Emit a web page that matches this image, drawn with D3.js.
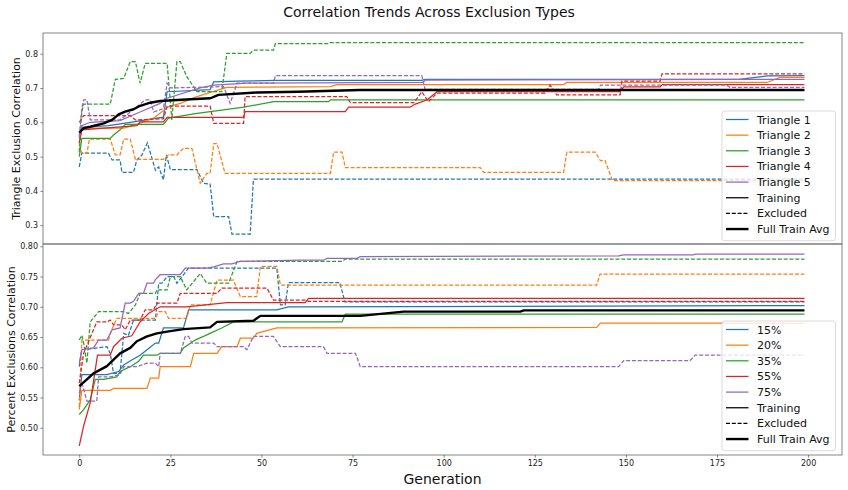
<!DOCTYPE html>
<html>
<head>
<meta charset="utf-8">
<script src="https://cdn.jsdelivr.net/npm/d3@7"></script>
<style>
  body { margin: 0; background: #fff; }
  svg { font-family: "DejaVu Sans", sans-serif; }
</style>
</head>
<body>
<div id="chart"></div>
<script>
// ---- data: [generation, correlation] vertices ----
const colors = ['#1f77b4', '#ff7f0e', '#2ca02c', '#d62728', '#9467bd'];

const triLabels = ['Triangle 1', 'Triangle 2', 'Triangle 3', 'Triangle 4', 'Triangle 5'];
const pctLabels = ['15%', '20%', '35%', '55%', '75%'];

const tri1Train = [[0,.555],[0.7,.585],[8,.59],[14,.6],[20,.61],[23.1,.615],[24.1,.689],[35.9,.695],[36.9,.718],[43.3,.72],[53.8,.722],[94,.722],[94.9,.725],[181,.725],[188.7,.735],[199,.736]];
const tri1Excl = [[0,.47],[0.7,.51],[8,.51],[9,.49],[11.2,.49],[11.7,.454],[14.9,.454],[15.8,.49],[17.2,.505],[18.7,.54],[20.9,.46],[21.8,.47],[23.1,.432],[23.9,.505],[25,.462],[32.3,.462],[34.1,.422],[35.9,.42],[36.9,.325],[41,.325],[41.9,.274],[46.9,.274],[47.8,.434],[199,.434]];
const tri2Train = [[0,.54],[0.7,.583],[12.2,.583],[15.8,.594],[20.4,.612],[24.5,.645],[27.7,.655],[32.3,.675],[36.9,.69],[40.5,.702],[68.9,.704],[70.7,.71],[132.9,.71],[133.8,.716],[188.7,.716],[192.3,.731],[199,.731]];
const tri2Excl = [[0,.535],[0.7,.51],[2.1,.51],[2.8,.551],[8.5,.551],[9.9,.505],[11.2,.505],[12.2,.551],[14,.551],[15.4,.492],[23.1,.492],[24.5,.505],[26.8,.505],[28.6,.524],[30.9,.524],[33.2,.422],[35,.451],[35.9,.451],[36.9,.538],[37.8,.538],[40,.451],[68.9,.451],[69.8,.513],[72.1,.513],[73,.468],[110,.468],[111,.454],[132.9,.454],[133.8,.513],[141.6,.513],[143,.488],[144.3,.488],[146.3,.43],[199,.43]];
const tri3Train = [[0,.5],[0.7,.553],[8.5,.553],[9.4,.563],[11.2,.578],[12.6,.594],[23.1,.594],[24.5,.612],[32.3,.626],[39.6,.636],[45.1,.644],[53.3,.66],[68.4,.66],[68.9,.665],[199,.665]];
const tri3Excl = [[0,.514],[0.7,.631],[1.2,.653],[8.5,.653],[9.9,.725],[12.2,.728],[14,.777],[15.4,.777],[16.7,.714],[18.1,.772],[24.1,.772],[25.4,.607],[26.8,.777],[27.7,.777],[29.5,.733],[32.3,.689],[39.1,.689],[40.5,.801],[46.9,.801],[47.8,.81],[53.3,.81],[53.8,.829],[68.4,.829],[68.9,.832],[199,.832]];
const tri4Train = [[0,.54],[0.7,.578],[15.8,.59],[16.7,.601],[23.1,.601],[24.1,.614],[45.1,.614],[45.5,.631],[73,.631],[73.9,.644],[90.8,.644],[92.2,.653],[95.4,.665],[98.2,.689],[148.4,.689],[149.4,.703],[159.4,.703],[160,.71],[199,.71]];
const tri4Excl = [[0,.6],[1.2,.619],[14,.619],[15.4,.607],[23.1,.61],[24.1,.647],[35.9,.647],[36.9,.597],[45.1,.597],[45.5,.675],[73.4,.675],[74.4,.657],[91.8,.657],[94,.689],[95.8,.66],[98.2,.685],[127.8,.685],[129.2,.708],[131,.68],[148.4,.68],[148.9,.72],[159.4,.72],[159.9,.741],[199,.741]];
const tri5Train = [[0,.555],[0.7,.59],[3,.6],[11.2,.605],[16.7,.63],[22.2,.655],[24.1,.67],[33.2,.7],[36.9,.708],[46,.714],[94.4,.716],[94.9,.723],[199,.725]];
const tri5Excl = [[0,.56],[0.7,.64],[1.2,.665],[2.1,.665],[3,.607],[11.2,.607],[14,.63],[18.1,.665],[19.5,.665],[20.4,.63],[23.1,.64],[24.1,.714],[25,.7],[39.6,.704],[41.4,.655],[43.3,.714],[53.3,.714],[53.8,.736],[94,.736],[94.9,.696],[142.5,.696],[143,.708],[177.7,.708],[178.5,.702],[199,.702]];
const triAvg = [[0,.57],[1.2,.583],[3,.587],[6.7,.597],[9,.607],[10.8,.623],[12.6,.631],[14.9,.638],[16.7,.648],[19.5,.657],[22.2,.662],[25.8,.664],[30.5,.667],[36,.67],[38.2,.68],[48.7,.687],[60,.689],[77,.694],[199,.694]];

const pct15Train = [[0,.546],[0.7,.588],[7.6,.588],[10.8,.593],[12.2,.604],[14.4,.612],[16.7,.62],[18.6,.629],[20.9,.64],[21.8,.64],[23.1,.665],[28.6,.665],[30,.695],[54.2,.695],[57.4,.7],[199,.702]];
const pct15Excl = [[0,.601],[0.7,.629],[7.6,.634],[8.5,.623],[9.4,.59],[11.2,.59],[12.2,.656],[13.5,.653],[14.9,.678],[20.9,.678],[21.8,.739],[22.7,.739],[24.1,.75],[25.9,.75],[26.8,.739],[30,.764],[54.2,.764],[55.2,.703],[56.5,.703],[57.4,.74],[71.5,.74],[72.9,.708],[199,.708]];
const pct20Train = [[0,.53],[0.7,.562],[8.5,.562],[9.4,.565],[18.6,.565],[19.5,.582],[21.8,.582],[22.2,.601],[30.5,.601],[31.4,.623],[37.8,.623],[39.1,.634],[43.3,.634],[44.2,.648],[47.8,.648],[48.7,.656],[54.2,.665],[142,.666],[143,.673],[199,.673]];
const pct20Excl = [[0,.535],[0.7,.645],[8,.645],[8.9,.662],[10.3,.681],[20.9,.681],[21.8,.692],[23.6,.692],[24.5,.681],[29.5,.681],[30.5,.703],[35.9,.703],[37.8,.744],[42.3,.744],[44.2,.717],[48.7,.717],[49.7,.767],[54.2,.767],[55.2,.736],[142,.736],[142.9,.754],[199,.754]];
const pct35Train = [[0,.522],[1.2,.53],[3,.546],[4.4,.58],[6.7,.58],[10.3,.584],[11.2,.593],[14,.601],[16.3,.61],[17.6,.62],[21.3,.62],[22.2,.623],[27.7,.623],[28.6,.632],[31.8,.645],[34.1,.651],[35.9,.656],[39.1,.665],[42.3,.675],[72.1,.675],[73,.688],[199,.688]];
const pct35Excl = [[0,.645],[0.7,.653],[1.2,.64],[2.1,.607],[3,.675],[5.3,.692],[12.2,.692],[13.5,.689],[15.4,.703],[16.7,.722],[20.9,.722],[21.3,.728],[24.1,.728],[25,.75],[27.7,.75],[29.5,.728],[33.2,.755],[35,.739],[41,.739],[43.3,.775],[72.1,.775],[73,.779],[199,.779]];
const pct55Train = [[0,.47],[1.2,.503],[3,.541],[5,.62],[8.5,.62],[9.4,.634],[11.7,.648],[14.4,.652],[15.4,.662],[16.7,.675],[19,.689],[22.2,.7],[29.5,.7],[40.5,.707],[62,.707],[62.9,.714],[199,.714]];
const pct55Excl = [[0,.574],[1.2,.623],[4.8,.675],[7.6,.675],[8.5,.678],[9.4,.67],[11.7,.67],[12.6,.662],[14,.678],[16.7,.678],[18.1,.695],[20.4,.695],[21.3,.706],[26.8,.706],[27.7,.722],[37.8,.722],[39.1,.731],[51.5,.731],[53.3,.711],[62,.711],[62.9,.709],[199,.709]];
const pct75Train = [[0,.607],[0.7,.629],[3.9,.632],[5.3,.645],[7.6,.645],[9,.662],[11.2,.665],[12.6,.706],[14,.706],[14.9,.709],[16.3,.722],[17.6,.722],[18.6,.739],[20.4,.739],[20.9,.745],[22.2,.753],[27.7,.753],[29.1,.764],[35,.764],[36.9,.766],[39.6,.771],[41.9,.771],[44.2,.775],[60.6,.777],[67,.777],[68,.78],[76.2,.78],[77.1,.783],[148,.784],[149.4,.786],[168.5,.786],[169,.787],[199,.787]];
const pct75Excl = [[0,.557],[0.7,.575],[2.1,.544],[4.8,.544],[5.3,.584],[8.5,.584],[11.2,.588],[12.2,.601],[15.8,.601],[18.6,.607],[20.9,.607],[21.8,.601],[22.2,.623],[27.7,.623],[29.1,.651],[30,.651],[30.9,.64],[36.9,.64],[37.8,.634],[45.1,.634],[46,.629],[47.8,.651],[53.3,.651],[55.2,.634],[67,.634],[68,.623],[75.8,.623],[77.1,.601],[148,.601],[149.4,.611],[167.6,.611],[169,.62],[199,.62]];
const pctAvg = [[0,.569],[2.1,.58],[3.9,.59],[7.6,.602],[9,.61],[11.2,.623],[14,.632],[15.8,.643],[18.6,.651],[21.3,.656],[24.1,.659],[28.6,.663],[35.9,.666],[37.8,.675],[47.8,.677],[49.7,.685],[77.1,.685],[89,.692],[121,.692],[122,.694],[199,.694]];

const xTicks = [0, 25, 50, 75, 100, 125, 150, 175, 200];
const triTicks = [0.3, 0.4, 0.5, 0.6, 0.7, 0.8];
const pctTicks = [0.50, 0.55, 0.60, 0.65, 0.70, 0.75, 0.80];

// ---- layout ----
const W = 848, H = 490;
const left = 43, right = 842;
const panels = [
  { top: 33, bottom: 244, domain: [0.245, 0.8603], ticks: triTicks, fmt: d3.format('.1f'),
    label: 'Triangle Exclusion Correlation', labelX: 20, labels: triLabels,
    train: [tri1Train, tri2Train, tri3Train, tri4Train, tri5Train],
    excl: [tri1Excl, tri2Excl, tri3Excl, tri4Excl, tri5Excl], avg: triAvg, legendTop: 111 },
  { top: 244, bottom: 455, domain: [0.455, 0.8038], ticks: pctTicks, fmt: d3.format('.2f'),
    label: 'Percent Exclusions Correlation', labelX: 15, labels: pctLabels,
    train: [pct15Train, pct20Train, pct35Train, pct55Train, pct75Train],
    excl: [pct15Excl, pct20Excl, pct35Excl, pct55Excl, pct75Excl], avg: pctAvg, legendTop: 321 }
];

const svg = d3.select('#chart').append('svg')
  .attr('width', W).attr('height', H);

const x = d3.scaleLinear().domain([-9.95, 209.3]).range([left, right]);

svg.append('text')
  .attr('x', 429).attr('y', 17)
  .attr('text-anchor', 'middle')
  .attr('font-size', 14)
  .attr('fill', '#111')
  .text('Correlation Trends Across Exclusion Types');

panels.forEach((p, pi) => {
  const y = d3.scaleLinear().domain(p.domain).range([p.bottom, p.top]);
  const g = svg.append('g');
  const clipId = 'clip' + pi;
  svg.append('clipPath').attr('id', clipId)
    .append('rect').attr('x', left).attr('y', p.top)
    .attr('width', right - left).attr('height', p.bottom - p.top);

  const line = d3.line().x(d => x(d[0])).y(d => y(d[1]));
  const plot = g.append('g').attr('clip-path', `url(#${clipId})`);

  p.train.forEach((s, i) => {
    plot.append('path').datum(s)
      .attr('d', line).attr('fill', 'none')
      .attr('stroke', colors[i]).attr('stroke-width', 1.25);
    plot.append('path').datum(p.excl[i])
      .attr('d', line).attr('fill', 'none')
      .attr('stroke', colors[i]).attr('stroke-width', 1.25)
      .attr('stroke-dasharray', '4,1.8');
  });
  plot.append('path').datum(p.avg)
    .attr('d', line).attr('fill', 'none')
    .attr('stroke', '#000').attr('stroke-width', 2.4)
    .attr('stroke-linejoin', 'round');

  // y axis
  const ya = g.append('g').attr('transform', `translate(${left},0)`)
    .call(d3.axisLeft(y).tickValues(p.ticks).tickFormat(p.fmt).tickSize(2.6).tickPadding(2.4));
  ya.select('.domain').remove();
  ya.selectAll('line').attr('stroke', '#333').attr('stroke-width', 0.6);
  ya.selectAll('text').attr('font-size', 8).attr('fill', '#222').attr('font-family', 'DejaVu Sans');

  g.append('text')
    .attr('transform', `translate(${p.labelX},${(p.top + p.bottom) / 2}) rotate(-90)`)
    .attr('text-anchor', 'middle')
    .attr('font-size', 11)
    .attr('fill', '#111')
    .text(p.label);

  // frame
  g.append('rect').attr('x', left).attr('y', p.top)
    .attr('width', right - left).attr('height', p.bottom - p.top)
    .attr('fill', 'none').attr('stroke', '#666').attr('stroke-width', 0.8);

  // legend
  const lg = g.append('g').attr('transform', `translate(722,${p.legendTop})`);
  lg.append('rect').attr('width', 113.5).attr('height', 129.7)
    .attr('rx', 2.5).attr('fill', '#fff').attr('fill-opacity', 0.8)
    .attr('stroke', '#ccc').attr('stroke-width', 0.7);
  const entries = p.labels.map((l, i) => ({ label: l, color: colors[i], dash: null, w: 1.25 }))
    .concat([
      { label: 'Training', color: '#000', dash: null, w: 1.25 },
      { label: 'Excluded', color: '#000', dash: '4,1.8', w: 1.25 },
      { label: 'Full Train Avg', color: '#000', dash: null, w: 2.4 }
    ]);
  entries.forEach((e, i) => {
    const cy = 8.5 + i * 15.65;
    lg.append('line').attr('x1', 4).attr('x2', 26.5).attr('y1', cy).attr('y2', cy)
      .attr('stroke', e.color).attr('stroke-width', e.w)
      .attr('stroke-dasharray', e.dash);
    lg.append('text').attr('x', 35).attr('y', cy + 4)
      .attr('font-size', 11).attr('fill', '#111').text(e.label);
  });

  if (pi === 1) {
    const xa = g.append('g').attr('transform', `translate(0,${p.bottom})`)
      .call(d3.axisBottom(x).tickValues(xTicks).tickSize(2.6).tickPadding(2.5));
    xa.select('.domain').remove();
    xa.selectAll('line').attr('stroke', '#333').attr('stroke-width', 0.6);
    xa.selectAll('text').attr('font-size', 8).attr('fill', '#222').attr('font-family', 'DejaVu Sans');
  }
});

svg.append('text')
  .attr('x', (left + right) / 2).attr('y', 484)
  .attr('text-anchor', 'middle')
  .attr('font-size', 14)
  .attr('fill', '#111')
  .text('Generation');
</script>
</body>
</html>
